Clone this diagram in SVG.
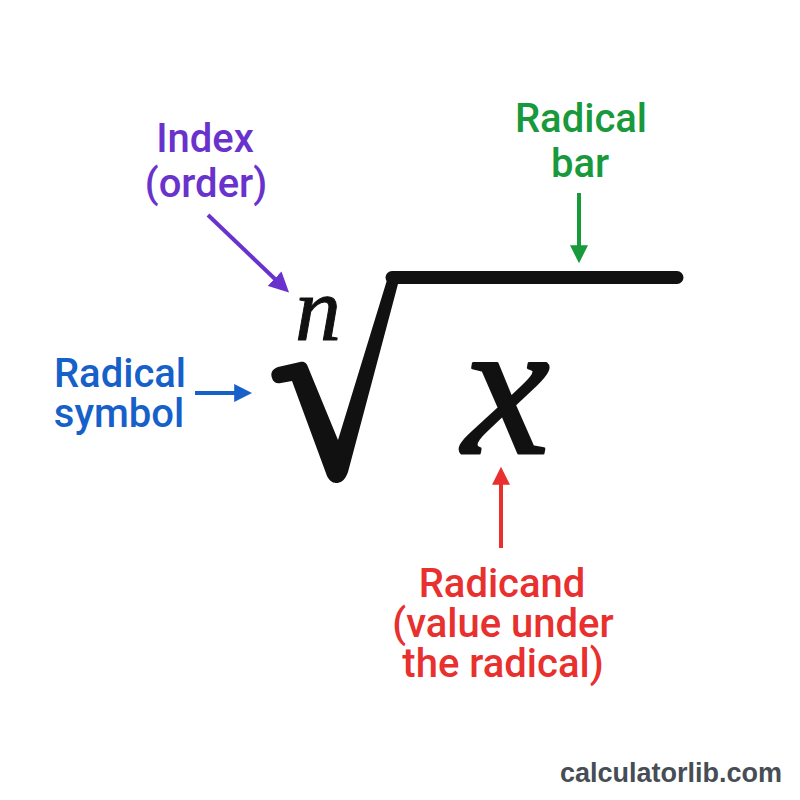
<svg xmlns="http://www.w3.org/2000/svg" width="800" height="800" viewBox="0 0 800 800">
  <style>
    .lbl { font-family: Roboto, "Liberation Sans", Arial, sans-serif; font-size: 40px; font-weight: 500; text-anchor: middle; }
    .math { font-family: "Liberation Serif", "Times New Roman", serif; font-style: italic; fill: #111; stroke: #111; stroke-linejoin: round; text-anchor: middle; }
    .arrow { stroke-width: 4; fill: none; }
    .purple { fill: #6a32cc; }
    .blue { fill: #1660c9; }
    .green { fill: #17993c; }
    .red { fill: #e8302f; }
    .footer { font-family: "Liberation Sans", Arial, sans-serif; font-weight: bold; font-size: 27px; fill: #474d55; }
  </style>
  <defs>
    <marker id="ahPurple" viewBox="0 0 10 10" refX="1" refY="5" markerWidth="5" markerHeight="5" orient="auto" markerUnits="strokeWidth">
      <path d="M0,0 L10,5 L0,10 z" fill="#6a32cc"/>
    </marker>
    <marker id="ahBlue" viewBox="0 0 10 10" refX="1" refY="5" markerWidth="4.5" markerHeight="4.5" orient="auto" markerUnits="strokeWidth">
      <path d="M0,0 L10,5 L0,10 z" fill="#1660c9"/>
    </marker>
    <marker id="ahGreen" viewBox="0 0 10 10" refX="1" refY="5" markerWidth="4.5" markerHeight="4.5" orient="auto" markerUnits="strokeWidth">
      <path d="M0,0 L10,5 L0,10 z" fill="#17993c"/>
    </marker>
    <marker id="ahRed" viewBox="0 0 10 10" refX="1" refY="5" markerWidth="4.5" markerHeight="4.5" orient="auto" markerUnits="strokeWidth">
      <path d="M0,0 L10,5 L0,10 z" fill="#e8302f"/>
    </marker>
  </defs>
  <rect width="800" height="800" fill="#ffffff"/>

  <g id="radical">
    <path d="M 272,378 C 270,372 273,369 278,367 L 300,362 C 305,361 307,364 308,367 L 338,440 L 387,280 C 389,274 392,271 398,271 L 398,284 L 348,472 C 345,481 340,483 336,483 C 332,483 329,480 327,476 L 292,381 L 281,383 C 276,384 273,382 272,378 Z" fill="#111"/>
    <line x1="392" y1="277.5" x2="677" y2="277.5" stroke="#111" stroke-width="13" stroke-linecap="round"/>
    <text class="math" x="318" y="340" font-size="92" stroke-width="1">n</text>
    <text class="math" x="506" y="453" font-size="196" stroke-width="3">x</text>
  </g>

  <g id="label-index">
    <text class="lbl purple" x="205" y="152">Index</text>
    <text class="lbl purple" x="206" y="197">(order)</text>
  </g>
  <g id="label-symbol">
    <text class="lbl blue" x="120" y="387">Radical</text>
    <text class="lbl blue" x="119" y="427">symbol</text>
  </g>
  <g id="label-bar">
    <text class="lbl green" x="581" y="132">Radical</text>
    <text class="lbl green" x="580" y="177">bar</text>
  </g>
  <g id="label-radicand">
    <text class="lbl red" x="502" y="597">Radicand</text>
    <text class="lbl red" x="503" y="637">(value under</text>
    <text class="lbl red" x="503" y="677">the radical)</text>
  </g>

  <g id="connectors">
    <line class="arrow" stroke="#6a32cc" x1="208" y1="215" x2="276" y2="280" marker-end="url(#ahPurple)"/>
    <line class="arrow" stroke="#1660c9" x1="195" y1="393" x2="236" y2="393" marker-end="url(#ahBlue)"/>
    <line class="arrow" stroke="#17993c" x1="579" y1="193" x2="579" y2="247" marker-end="url(#ahGreen)"/>
    <line class="arrow" stroke="#e8302f" x1="501" y1="548" x2="501" y2="483" marker-end="url(#ahRed)"/>
  </g>

  <text id="footer" class="footer" x="560" y="782">calculatorlib.com</text>
</svg>
